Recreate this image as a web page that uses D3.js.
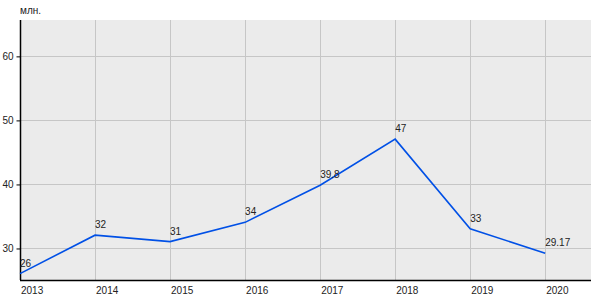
<!DOCTYPE html>
<html>
<head>
<meta charset="utf-8">
<script src="https://cdn.jsdelivr.net/npm/d3@7"></script>
<style>
	body { margin: 0; background: #fff; }
	svg text { font-family: "Liberation Sans", Arial, sans-serif; font-size: 10px; fill: #222; }
</style>
</head>
<body>
<svg width="600" height="300"></svg>
<script>
var years = [2013, 2014, 2015, 2016, 2017, 2018, 2019, 2020];
var values = [26, 32, 31, 34, 39.8, 47, 33, 29.17];
var valueLabels = ["26", "32", "31", "34", "39.8", "47", "33", "29.17"];
var yTicks = [30, 40, 50, 60];
var unitLabel = "млн.";

var svg = d3.select("svg");
var plotLeft = 20, plotRight = 591, plotTop = 20, plotBottom = 280;

var x = d3.scaleLinear().domain([2013, 2020.61]).range([plotLeft, plotRight]);
var y = d3.scaleLinear().domain([25, 65.6]).range([plotBottom, plotTop]);

// plot background
svg.append("rect")
	.attr("x", plotLeft).attr("y", plotTop)
	.attr("width", plotRight - plotLeft).attr("height", plotBottom - plotTop)
	.attr("fill", "#ebebeb");

// grid
var grid = svg.append("g").attr("stroke", "#c6c6c6").attr("stroke-width", 1);
grid.selectAll("line.h").data(yTicks).enter().append("line")
	.attr("x1", plotLeft).attr("x2", plotRight)
	.attr("y1", function(d) { return Math.round(y(d)) + 0.5; })
	.attr("y2", function(d) { return Math.round(y(d)) + 0.5; });
grid.selectAll("line.v").data(years.slice(1)).enter().append("line")
	.attr("y1", plotTop).attr("y2", plotBottom)
	.attr("x1", function(d) { return Math.round(x(d)) + 0.5; })
	.attr("x2", function(d) { return Math.round(x(d)) + 0.5; });

// axes
var yAxis = svg.append("g")
	.attr("transform", "translate(" + (plotLeft + 0.5) + ",0.5)")
	.call(d3.axisLeft(y).tickValues(yTicks).tickSize(4).tickPadding(3).tickSizeOuter(0));
yAxis.select(".domain").remove();
yAxis.selectAll(".tick line").attr("stroke", "#000");
yAxis.selectAll(".tick text").attr("fill", "#222").attr("font-size", 10)
	.attr("font-family", "Liberation Sans, Arial, sans-serif");
svg.append("line")
	.attr("x1", plotLeft + 0.5).attr("x2", plotLeft + 0.5)
	.attr("y1", plotTop).attr("y2", plotBottom)
	.attr("stroke", "#000").attr("stroke-width", 1.5);

svg.append("line")
	.attr("x1", plotLeft).attr("x2", plotRight)
	.attr("y1", plotBottom + 0.5).attr("y2", plotBottom + 0.5)
	.attr("stroke", "#000").attr("stroke-width", 1.5);

svg.append("g").selectAll("text").data(years).enter().append("text")
	.attr("x", function(d) { return x(d) + 1; })
	.attr("y", plotBottom + 14)
	.text(function(d) { return d; });

svg.append("text")
	.attr("x", plotLeft).attr("y", 14)
	.text(unitLabel);

// line
var line = d3.line()
	.x(function(d, i) { return x(years[i]); })
	.y(function(d) { return y(d); });

svg.append("path")
	.datum(values)
	.attr("d", line)
	.attr("fill", "none")
	.attr("stroke", "#0050e6")
	.attr("stroke-width", 1.6);

// value labels
svg.append("g").selectAll("text").data(values).enter().append("text")
	.attr("x", function(d, i) { return x(years[i]); })
	.attr("y", function(d) { return y(d) - 7; })
	.text(function(d, i) { return valueLabels[i]; });
</script>
</body>
</html>
